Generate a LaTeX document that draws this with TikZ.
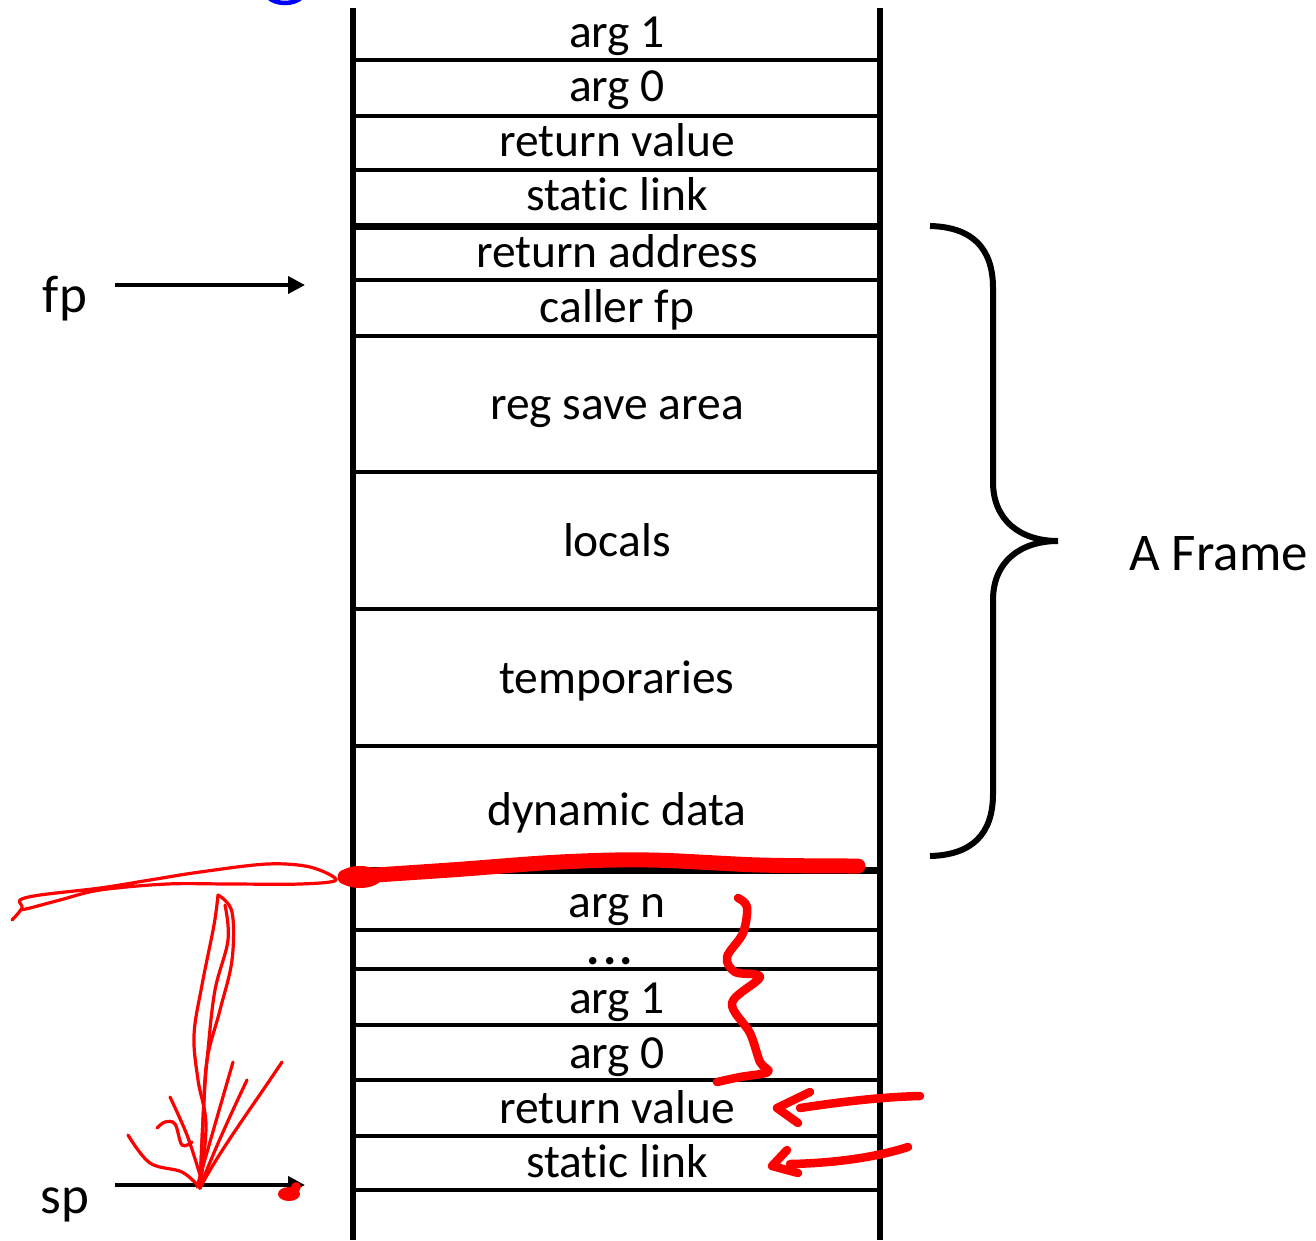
\documentclass[tikz,border=0pt]{standalone}
\usepackage{fontspec}
\setmainfont{Carlito}[Ligatures=NoCommon]
\usetikzlibrary{arrows.meta}
\begin{document}
\begin{tikzpicture}[x=1pt,y=-1pt,
  cell/.style={font=\fontsize{47.5}{47.5}\selectfont, anchor=base, inner sep=0pt},
  side/.style={font=\fontsize{53}{53}\selectfont, anchor=base, inner sep=0pt},
  wall/.style={line width=6pt},
  rowsep/.style={line width=3.4pt},
  framesep/.style={line width=7pt},
  ptr/.style={line width=4pt, -{Triangle[length=17pt,width=17pt]}},
  ink/.style={red, line cap=round, line join=round},
  thinink/.style={ink, line width=3.2pt},
  penink/.style={ink, line width=8.5pt}]
\useasboundingbox (0,0) rectangle (1316,1240);

% stack walls
\draw[wall] (353,8) -- (353,1240);
\draw[wall] (880,8) -- (880,1240);

% row separators
\foreach \yy in {60,116,170,280,336,472,609,746,930,969,1025,1080,1136,1190}
  \draw[rowsep] (353,\yy) -- (880,\yy);
\draw[framesep] (353,226) -- (880,226);
\draw[framesep] (353,870) -- (880,870);

% caller's part of the stack
\node[cell] (top1) at (617,47) {arg 1};
\node[cell] (top0) at (617,101) {arg 0};
\node[cell] (toprv) at (617,156) {return value};
\node[cell] (topsl) at (617,210) {static link};

% the frame
\node[cell] (ra) at (617,267) {return address};
\node[cell] (cfp) at (617,322) {caller fp};
\node[cell] (regs) at (617,419) {reg save area};
\node[cell] (loc) at (617,556) {locals};
\node[cell] (tmp) at (617,693) {temporaries};
\node[cell] (dyn) at (617,825) {dynamic data};

% outgoing part
\node[cell] (argn) at (617,917) {arg n};
\node[cell, font=\fontsize{50}{50}\selectfont\bfseries, text height=10pt, text depth=0pt] (dots) at (610,964) {.\kern3pt.\kern3pt.};
\node[cell] (out1) at (617,1013) {arg 1};
\node[cell] (out0) at (617,1068) {arg 0};
\node[cell] (outrv) at (617,1123) {return value};
\node[cell] (outsl) at (617,1177) {static link};

% pointers
\node[side] (fp) at (65,312) {fp};
\node[side] (sp) at (65,1213) {sp};
\coordinate (fpTail) at (115,285);
\coordinate (fpTip) at (305,285);
\coordinate (spTail) at (115,1185);
\coordinate (spTip) at (305,1185);
\draw[ptr] (fpTail) -- (fpTip);
\draw[ptr] (spTail) -- (spTip);

% frame brace
\draw[line width=6pt] (930,226) .. controls (972,227) and (993,248) .. (993,288)
  -- (993,482) .. controls (993,520) and (1020,541) .. (1058,541)
  .. controls (1020,541) and (993,562) .. (993,600)
  -- (993,794) .. controls (993,834) and (972,855) .. (930,856);
\node[side, anchor=base west] (frame) at (1129,570) {A Frame};

% blue pen mark at the top edge
\draw[blue, line width=4.5pt, line cap=round] (268,-3) .. controls (276,5) and (294,5) .. (302,-3);

% red pen: new frame boundary
\draw[ink, line width=15pt] plot[smooth, tension=0.6] coordinates
  {(345,877) (450,870) (560,862) (650,860) (760,865) (858,866)};
\fill[red] (360,877) ellipse[x radius=22pt, y radius=11pt];
\draw[thinink] plot[smooth, tension=0.55] coordinates
  {(12,920) (22,908) (20,900) (40,895) (100,888) (150,880) (200,872) (267,864)
   (310,867) (336,880) (300,884) (230,884) (167,884) (100,890) (60,900) (30,908) (20,910)};

% red pen: sp moves down
\draw[thinink] plot[smooth, tension=0.6] coordinates
  {(218,895) (232,912) (232,960) (220,1010) (207,1060) (203,1120) (200,1188)};
\draw[thinink] plot[smooth, tension=0.6] coordinates
  {(218,895) (214,925) (202,985) (194,1035) (198,1080) (206,1125) (200,1188)};
\draw[thinink] plot[smooth, tension=0.6] coordinates
  {(225,905) (228,940) (215,990) (208,1050) (204,1100) (200,1188)};
\draw[thinink] (233,1062) -- (197,1187);
\draw[thinink] (247,1080) .. controls (228,1120) and (210,1160) .. (200,1188);
\draw[thinink] (282,1062) .. controls (250,1110) and (220,1150) .. (200,1188);
\draw[thinink] plot[smooth, tension=0.6] coordinates
  {(128,1135) (150,1163) (182,1172) (200,1188)};
\draw[thinink] plot[smooth, tension=0.6] coordinates
  {(170,1097) (187,1135) (200,1175)};
\draw[thinink] plot[smooth, tension=0.6] coordinates
  {(157,1128) (165,1122) (175,1124) (182,1145) (192,1142)};
\fill[red] (289,1194) ellipse[x radius=11pt, y radius=7pt];
\fill[red] (296,1187) circle[radius=5pt];

% red pen: argument group and arrows
\draw[penink] plot[smooth, tension=0.55] coordinates
  {(738,898) (747,907) (743,933) (727,957) (735,972) (760,977) (732,1003)
   (750,1033) (760,1062) (768,1072) (740,1077) (717,1082)};
\draw[penink] (920,1096) .. controls (880,1097) and (840,1102) .. (800,1108);
\draw[penink] (810,1092) -- (777,1108) -- (798,1123);
\draw[penink] (908,1147) .. controls (880,1156) and (840,1163) .. (790,1164);
\draw[penink] (787,1150) -- (772,1166) -- (798,1173);
\end{tikzpicture}
\end{document}
